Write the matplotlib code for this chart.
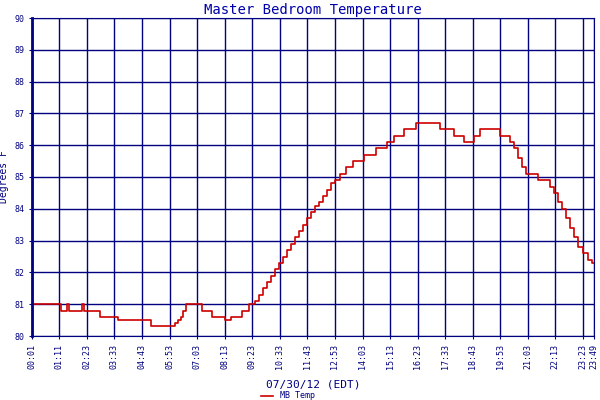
import matplotlib
matplotlib.use("Agg")
import matplotlib.pyplot as plt

minutes = [1, 74, 90, 95, 128, 133, 173, 219, 305, 365, 373, 380, 386, 393, 434, 459, 492, 507, 535,
           553, 568, 578, 588, 598, 608, 618, 628, 639, 649, 659, 669, 679, 689, 699, 709, 720, 730,
           740, 750, 760, 770, 785, 800, 816, 846, 876, 902, 922, 947, 978, 1038, 1074, 1099, 1124,
           1139, 1190, 1215, 1225, 1236, 1246, 1256, 1286, 1317, 1327, 1337, 1347, 1357, 1367, 1377,
           1388, 1400, 1413, 1423, 1429]
temps = [81.0, 80.8, 81.0, 80.8, 81.0, 80.8, 80.6, 80.5, 80.3, 80.4, 80.5, 80.6, 80.8, 81.0, 80.8,
         80.6, 80.5, 80.6, 80.8, 81.0, 81.1, 81.3, 81.5, 81.7, 81.9, 82.1, 82.3, 82.5, 82.7, 82.9,
         83.1, 83.3, 83.5, 83.7, 83.9, 84.1, 84.2, 84.4, 84.6, 84.8, 84.9, 85.1, 85.3, 85.5, 85.7,
         85.9, 86.1, 86.3, 86.5, 86.7, 86.5, 86.3, 86.1, 86.3, 86.5, 86.3, 86.1, 85.9, 85.6, 85.3,
         85.1, 84.9, 84.7, 84.5, 84.2, 84.0, 83.7, 83.4, 83.1, 82.8, 82.6, 82.4, 82.3, 82.3]
tick_labels = ["00:01", "01:11", "02:23", "03:33", "04:43", "05:53", "07:03", "08:13", "09:23",
               "10:33", "11:43", "12:53", "14:03", "15:13", "16:23", "17:33", "18:43", "19:53",
               "21:03", "22:13", "23:23", "23:49"]

navy = "#000080"
font = "DejaVu Sans Mono"
fig = plt.figure(figsize=(6, 4), dpi=100)
ax = fig.add_axes([0.053, 0.16, 0.937, 0.795])
ax.step(minutes, temps, where="post", color="#cc0000", lw=1.2, label="MB Temp")
ax.set_xlim(1, 1429)
ax.set_ylim(80, 90)
ticks = [1 + 70 * i for i in range(21)] + [1429]
ax.set_xticks(ticks)
ax.set_xticklabels(tick_labels, rotation=90, fontsize=6, color=navy, family=font)
ax.set_yticks(range(80, 91))
ax.set_yticklabels([str(v) for v in range(80, 91)], fontsize=6, color=navy, family=font)
ax.grid(True, color=navy, lw=1)
for s in ax.spines.values():
    s.set_color(navy)
ax.spines["left"].set_linewidth(2)
ax.tick_params(length=2, color=navy)
ax.set_title("Master Bedroom Temperature", color="#0000aa", family=font, fontsize=10, pad=3)
ax.set_ylabel("Degrees F", color=navy, family=font, fontsize=7, labelpad=4)
ax.set_xlabel("07/30/12 (EDT)", color=navy, family=font, fontsize=8, labelpad=8)
leg = fig.legend(loc="lower center", bbox_to_anchor=(0.48, -0.02), frameon=False,
                 prop={"family": font, "size": 6}, handlelength=1.5)
for t in leg.get_texts():
    t.set_color(navy)
fig.savefig("out.png", dpi=100)
